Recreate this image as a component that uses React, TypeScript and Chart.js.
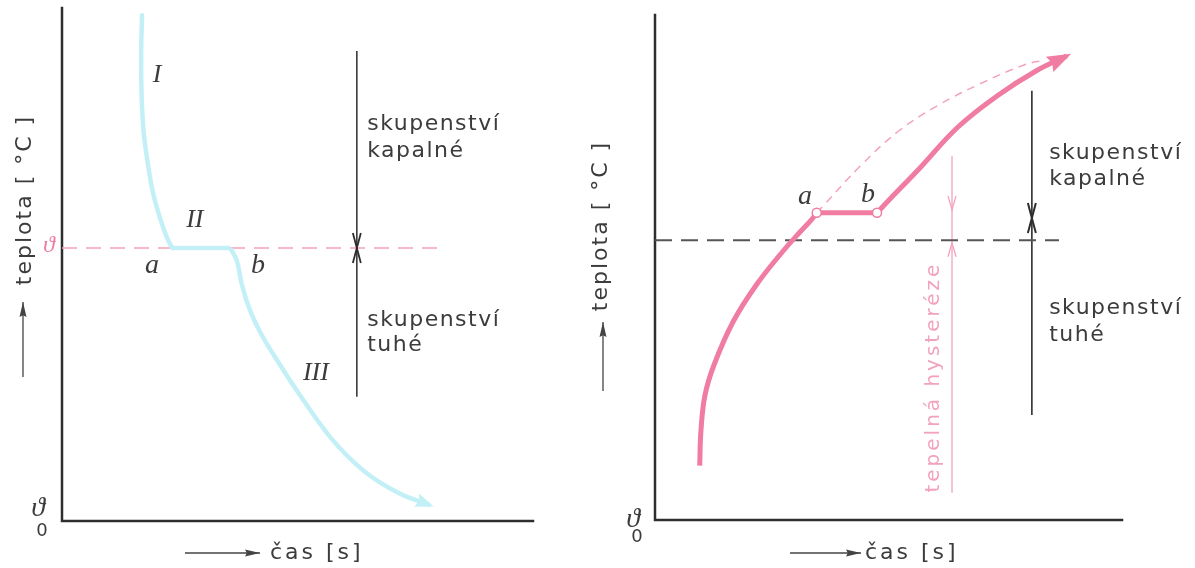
import React, { useEffect, useRef } from "react";
import { Chart, registerables } from "chart.js";

Chart.register(...registerables);

// ---------- Left figure: cooling curve (time / temperature units 0..100) ----------
const coolLiquidTime = [17.0, 16.8, 16.9, 17.3, 18.2, 19.3, 20.8, 22.3, 23.4];
const coolLiquidTemp = [98.6, 90.8, 83.0, 76.2, 69.8, 64.1, 59.1, 55.2, 53.2];
const coolPlateauTime = [23.4, 35.7];
const coolSolidTime = [35.7, 37.2, 38.2, 39.9, 42.5, 45.9, 50.1, 56.9, 64.3, 71.8, 78.1];
const coolSolidTemp = [53.2, 50.5, 46.0, 41.1, 36.1, 31.0, 25.1, 16.4, 9.6, 5.3, 3.1];
const leftMeltTemp = 53.2;
const leftMeltLineTime = [0, 81.3];
const leftPhaseArrowTime = 62.6;
const leftPhaseArrowTemp = [91.6, 24.2]; // upper end, lower end

// ---------- Right figure: heating curve ----------
const heatSolidTime = [9.57, 9.85, 10.71, 12.63, 16.7, 21.84, 27.62, 31.05, 33.62, 34.63];
const heatSolidTemp = [10.77, 17.82, 24.75, 30.69, 39.21, 46.73, 53.47, 57.03, 59.6, 60.85];
const heatPlateauTime = [34.63, 47.54];
const heatPlateauTemp = 60.85;
const heatLiquidTime = [47.54, 50.32, 56.32, 64.88, 73.23, 81.58, 88.16];
const heatLiquidTemp = [60.85, 63.56, 69.31, 77.82, 83.96, 88.91, 91.88];
const heatIdealTime = [34.63, 35.89, 44.18, 52.46, 60.77, 69.08, 79.01, 83.5];
const heatIdealTemp = [60.85, 62.08, 70.3, 77.23, 82.18, 86.14, 90.1, 91.1];
const rightMeltTemp = 55.4;
const rightMeltLineTime = [0, 86.5];
const rightPhaseArrowTime = 80.7;
const rightPhaseArrowTemp = [85.0, 59.8, 20.8]; // top, meeting point, bottom
const hysteresisTime = 63.6;
const hysteresisTemp = [72.1, 61.4, 54.9, 5.4]; // top, down tip, up tip, bottom

// ---------- Texts ----------
const yTitle = "teplota [ °C ]";
const xTitle = "čas [s]";
const liquidText = ["skupenství", "kapalné"];
const solidText = ["skupenství", "tuhé"];
const stageLabels = ["I", "II", "III"];
const pointLabels = ["a", "b"];
const hysteresisText = "tepelná hysteréze";
const thetaSymbol = "ϑ";
const thetaZero = "0";

// ---------- Styles ----------
const PINK = "#f07ca2";
const PINK_LIGHT = "#f2a3bb";
const BLUE = "#c3f0f6";
const INK = "#2e2e2e";
const TEXT = "#3c3c3c";
const SANS = '"DejaVu Sans", sans-serif';
const SERIF_IT = 'italic 26px "Liberation Serif", serif';
const LETTER_IT = 'italic 28px "Liberation Serif", serif';
const BODY = `22px ${SANS}`;

const pts = (xs: number[], ys: number[]) => xs.map((x, i) => ({ x, y: ys[i] }));

const line = (data: any[], color: string, width: number, extra: any = {}) => ({
  data,
  showLine: true,
  borderColor: color,
  backgroundColor: color,
  borderWidth: width,
  pointRadius: 0,
  pointHoverRadius: 0,
  tension: 0,
  fill: false,
  clip: false,
  ...extra,
});

type P = { xd?: number; yd?: number; dx?: number; dy?: number; fromBottom?: boolean };
type TextItem = P & {
  text: string;
  font: string;
  color: string;
  align?: CanvasTextAlign;
  baseline?: CanvasTextBaseline;
  spacing?: number;
  rotate?: number;
};
type ArrowItem = { from: P; to: P; color: string };
type FigureCfg = { texts: TextItem[]; arrows: ArrowItem[] };

function pos(chart: any, p: P): [number, number] {
  const a = chart.chartArea;
  const x = p.xd !== undefined ? chart.scales.x.getPixelForValue(p.xd) : a.left;
  let y: number;
  if (p.yd !== undefined) y = chart.scales.y.getPixelForValue(p.yd);
  else y = p.fromBottom ? a.bottom : a.top;
  return [x + (p.dx || 0), y + (p.dy || 0)];
}

function arrowHead(
  ctx: CanvasRenderingContext2D,
  x: number,
  y: number,
  ang: number,
  len: number,
  half: number,
  filled: boolean,
  color: string,
  lw: number
) {
  const c = Math.cos(ang), s = Math.sin(ang);
  const bx = x - len * c, by = y - len * s;
  const px = -s * half, py = c * half;
  ctx.save();
  ctx.beginPath();
  if (filled) {
    ctx.moveTo(x, y);
    ctx.lineTo(bx + px, by + py);
    ctx.lineTo(bx + len * 0.12 * c, by + len * 0.12 * s);
    ctx.lineTo(bx - px, by - py);
    ctx.closePath();
    ctx.fillStyle = color;
    ctx.fill();
  } else {
    ctx.moveTo(bx + px, by + py);
    ctx.lineTo(x, y);
    ctx.lineTo(bx - px, by - py);
    ctx.strokeStyle = color;
    ctx.lineWidth = lw;
    ctx.lineJoin = "miter";
    ctx.stroke();
  }
  ctx.restore();
}

function makeFigurePlugin(cfg: FigureCfg) {
  return {
    id: "figure",
    beforeDatasetsDraw(chart: any) {
      const { ctx, chartArea: a } = chart;
      ctx.save();
      ctx.strokeStyle = INK;
      ctx.lineWidth = 2.5;
      ctx.lineCap = "square";
      ctx.beginPath();
      ctx.moveTo(a.left, a.top);
      ctx.lineTo(a.left, a.bottom);
      ctx.lineTo(a.right, a.bottom);
      ctx.stroke();
      ctx.restore();
    },
    afterDatasetsDraw(chart: any) {
      const ctx: CanvasRenderingContext2D = chart.ctx;
      chart.data.datasets.forEach((ds: any, i: number) => {
        if (!ds.arrow) return;
        const meta = chart.getDatasetMeta(i);
        const n = meta.data.length;
        const p1 = meta.data[n - 1], p0 = meta.data[n - 2];
        const ang = Math.atan2(p1.y - p0.y, p1.x - p0.x);
        const ext = ds.arrow.ext || 0;
        arrowHead(
          ctx,
          p1.x + ext * Math.cos(ang),
          p1.y + ext * Math.sin(ang),
          ang,
          ds.arrow.len,
          ds.arrow.half,
          ds.arrow.filled,
          ds.arrow.color,
          ds.arrow.lw || 1.5
        );
      });
      cfg.arrows.forEach((ar) => {
        const [x0, y0] = pos(chart, ar.from);
        const [x1, y1] = pos(chart, ar.to);
        ctx.save();
        ctx.strokeStyle = ar.color;
        ctx.lineWidth = 1.3;
        ctx.beginPath();
        ctx.moveTo(x0, y0);
        ctx.lineTo(x1, y1);
        ctx.stroke();
        ctx.restore();
        arrowHead(ctx, x1, y1, Math.atan2(y1 - y0, x1 - x0), 15, 3.5, true, ar.color, 1);
      });
      cfg.texts.forEach((t) => {
        const [x, y] = pos(chart, t);
        ctx.save();
        ctx.translate(x, y);
        if (t.rotate) ctx.rotate(t.rotate);
        ctx.font = t.font;
        ctx.fillStyle = t.color;
        ctx.textAlign = t.align || "center";
        ctx.textBaseline = t.baseline || "middle";
        (ctx as any).letterSpacing = `${t.spacing || 0}px`;
        ctx.fillText(t.text, 0, 0);
        ctx.restore();
      });
    },
  };
}

function baseConfig(datasets: any[], padding: any, cfg: FigureCfg): any {
  return {
    type: "scatter",
    data: { datasets },
    options: {
      responsive: false,
      animation: false,
      devicePixelRatio: 1,
      events: [],
      layout: { padding },
      scales: {
        x: { type: "linear", min: 0, max: 100, display: false },
        y: { type: "linear", min: 0, max: 100, display: false },
      },
      plugins: { legend: { display: false }, tooltip: { enabled: false } },
    },
    plugins: [makeFigurePlugin(cfg)],
  };
}

function leftConfig() {
  const m = leftMeltTemp;
  const datasets = [
    line(pts(coolLiquidTime, coolLiquidTemp), BLUE, 4.5, { tension: 0.4, borderCapStyle: "round" }),
    line(pts(coolPlateauTime, [m, m]), BLUE, 4.5),
    line(pts(coolSolidTime, coolSolidTemp), BLUE, 4.5, {
      cubicInterpolationMode: "monotone",
      arrow: { len: 18, half: 7, filled: true, color: BLUE, ext: 4 },
    }),
    line(pts(leftMeltLineTime, [m, m]), PINK_LIGHT, 1.5, { borderDash: [15, 9] }),
    line(pts([leftPhaseArrowTime, leftPhaseArrowTime], [leftPhaseArrowTemp[0], m]), INK, 1.5, {
      arrow: { len: 15, half: 4, filled: false, color: INK, lw: 1.8 },
    }),
    line(pts([leftPhaseArrowTime, leftPhaseArrowTime], [leftPhaseArrowTemp[1], m]), INK, 1.5, {
      arrow: { len: 15, half: 4, filled: false, color: INK, lw: 1.8 },
    }),
  ];
  const cfg: FigureCfg = {
    texts: [
      { text: stageLabels[0], xd: 20.2, yd: 86.9, font: SERIF_IT, color: TEXT },
      { text: stageLabels[1], xd: 28.2, yd: 58.7, font: SERIF_IT, color: TEXT },
      { text: stageLabels[2], xd: 53.9, yd: 28.8, font: SERIF_IT, color: TEXT },
      { text: pointLabels[0], xd: 19.1, yd: 49.7, font: LETTER_IT, color: TEXT },
      { text: pointLabels[1], xd: 41.6, yd: 49.7, font: LETTER_IT, color: TEXT },
      { text: liquidText[0], xd: 64.8, yd: 76.2, font: BODY, color: TEXT, align: "left", baseline: "alphabetic", spacing: 1.5 },
      { text: liquidText[1], xd: 64.8, yd: 70.9, font: BODY, color: TEXT, align: "left", baseline: "alphabetic", spacing: 1.5 },
      { text: solidText[0], xd: 64.8, yd: 38.0, font: BODY, color: TEXT, align: "left", baseline: "alphabetic", spacing: 1.5 },
      { text: solidText[1], xd: 64.8, yd: 33.1, font: BODY, color: TEXT, align: "left", baseline: "alphabetic", spacing: 1.5 },
      { text: yTitle, dx: -37, dy: 192, font: BODY, color: TEXT, rotate: -Math.PI / 2, spacing: 2 },
      { text: xTitle, dx: 208, dy: 32, fromBottom: true, font: BODY, color: TEXT, align: "left", spacing: 3 },
      { text: thetaSymbol, dx: -24, dy: -12, fromBottom: true, font: 'italic 28px "Liberation Serif", serif', color: TEXT },
      { text: thetaZero, dx: -20, dy: 10, fromBottom: true, font: `18px ${SANS}`, color: TEXT },
      { text: thetaSymbol, dx: -13, yd: m, dy: -2, font: 'italic 24px "Liberation Serif", serif', color: PINK },
    ],
    arrows: [
      { from: { dx: -39, dy: 369 }, to: { dx: -39, dy: 294 }, color: "#444" },
      { from: { dx: 123, dy: 32, fromBottom: true }, to: { dx: 198, dy: 32, fromBottom: true }, color: "#444" },
    ],
  };
  return baseConfig(datasets, { left: 62, top: 8, right: 27, bottom: 47 }, cfg);
}

function rightConfig() {
  const p = heatPlateauTemp;
  const m = rightMeltTemp;
  const datasets = [
    {
      data: pts(heatPlateauTime, [p, p]),
      showLine: false,
      pointRadius: 4.5,
      pointHoverRadius: 4.5,
      pointBackgroundColor: "#ffffff",
      pointBorderColor: PINK,
      pointBorderWidth: 1.5,
      clip: false,
    },
    line(pts(heatPlateauTime, [p, p]), PINK, 5),
    line(pts(heatSolidTime, heatSolidTemp), PINK, 5, { tension: 0.4 }),
    line(pts(heatLiquidTime, heatLiquidTemp), PINK, 5, {
      tension: 0.4,
      arrow: { len: 24, half: 8.5, filled: true, color: PINK, ext: 5 },
    }),
    line(pts(heatIdealTime, heatIdealTemp), PINK_LIGHT, 1.5, { tension: 0.4, borderDash: [8, 6] }),
    line(pts(rightMeltLineTime, [m, m]), "#555", 2, { borderDash: [17, 9] }),
    line(pts([rightPhaseArrowTime, rightPhaseArrowTime], [rightPhaseArrowTemp[0], rightPhaseArrowTemp[1]]), INK, 1.6, {
      arrow: { len: 15, half: 4, filled: false, color: INK, lw: 2 },
    }),
    line(pts([rightPhaseArrowTime, rightPhaseArrowTime], [rightPhaseArrowTemp[2], rightPhaseArrowTemp[1]]), INK, 1.6, {
      arrow: { len: 15, half: 4, filled: false, color: INK, lw: 2 },
    }),
    line(pts([hysteresisTime, hysteresisTime], [hysteresisTemp[0], hysteresisTemp[1]]), PINK_LIGHT, 1.3, {
      arrow: { len: 14, half: 4, filled: false, color: PINK_LIGHT, lw: 1.3 },
    }),
    line(pts([hysteresisTime, hysteresisTime], [hysteresisTemp[1], hysteresisTemp[2]]), PINK_LIGHT, 1.3),
    line(pts([hysteresisTime, hysteresisTime], [hysteresisTemp[3], hysteresisTemp[2]]), PINK_LIGHT, 1.3, {
      arrow: { len: 14, half: 4, filled: false, color: PINK_LIGHT, lw: 1.3 },
    }),
  ];
  const cfg: FigureCfg = {
    texts: [
      { text: pointLabels[0], xd: 32.1, yd: 64.0, font: LETTER_IT, color: TEXT },
      { text: pointLabels[1], xd: 45.6, yd: 64.4, font: LETTER_IT, color: TEXT },
      { text: liquidText[0], xd: 84.4, yd: 71.5, font: BODY, color: TEXT, align: "left", baseline: "alphabetic", spacing: 1.5 },
      { text: liquidText[1], xd: 84.4, yd: 66.3, font: BODY, color: TEXT, align: "left", baseline: "alphabetic", spacing: 1.5 },
      { text: solidText[0], xd: 84.4, yd: 40.8, font: BODY, color: TEXT, align: "left", baseline: "alphabetic", spacing: 1.5 },
      { text: solidText[1], xd: 84.4, yd: 35.4, font: BODY, color: TEXT, align: "left", baseline: "alphabetic", spacing: 1.5 },
      { text: hysteresisText, xd: 59.7, yd: 28.3, font: `20px ${SANS}`, color: PINK_LIGHT, rotate: -Math.PI / 2, spacing: 3 },
      { text: yTitle, dx: -54, dy: 211, font: BODY, color: TEXT, rotate: -Math.PI / 2, spacing: 2 },
      { text: xTitle, dx: 210, dy: 33, fromBottom: true, font: BODY, color: TEXT, align: "left", spacing: 3 },
      { text: thetaSymbol, dx: -22, dy: 0, fromBottom: true, font: 'italic 28px "Liberation Serif", serif', color: TEXT },
      { text: thetaZero, dx: -18, dy: 17, fromBottom: true, font: `18px ${SANS}`, color: TEXT },
    ],
    arrows: [
      { from: { dx: -52, dy: 376 }, to: { dx: -52, dy: 307 }, color: "#444" },
      { from: { dx: 135, dy: 33, fromBottom: true }, to: { dx: 206, dy: 33, fromBottom: true }, color: "#444" },
    ],
  };
  return baseConfig(datasets, { left: 95, top: 15, right: 73, bottom: 48 }, cfg);
}

export default function App() {
  const leftRef = useRef<HTMLCanvasElement>(null);
  const rightRef = useRef<HTMLCanvasElement>(null);
  useEffect(() => {
    const c1 = new Chart(leftRef.current as HTMLCanvasElement, leftConfig());
    const c2 = new Chart(rightRef.current as HTMLCanvasElement, rightConfig());
    return () => {
      c1.destroy();
      c2.destroy();
    };
  }, []);
  return (
    <div
      style={{
        position: "absolute",
        left: 0,
        top: 0,
        width: 1195,
        height: 568,
        background: "#ffffff",
        overflow: "hidden",
      }}
    >
      <canvas
        ref={leftRef}
        width={560}
        height={568}
        style={{ position: "absolute", left: 0, top: 0, width: 560, height: 568 }}
      />
      <canvas
        ref={rightRef}
        width={635}
        height={568}
        style={{ position: "absolute", left: 560, top: 0, width: 635, height: 568 }}
      />
    </div>
  );
}
